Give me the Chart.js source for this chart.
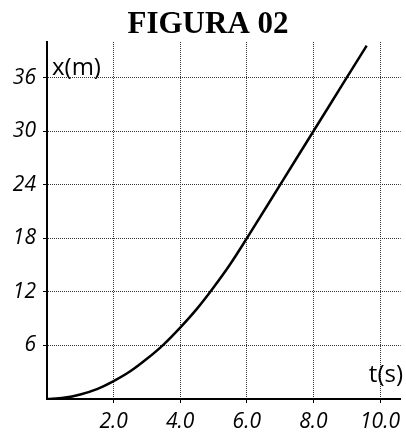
<!DOCTYPE html>
<html>
<head>
<meta charset="utf-8">
<script src="https://cdn.jsdelivr.net/npm/chart.js@4/dist/chart.umd.min.js"></script>
<style>
  html, body { margin: 0; padding: 0; background: #fff; }
  #wrap { width: 406px; height: 432px; }
</style>
</head>
<body>
<div id="wrap"><canvas id="c" width="406" height="432"></canvas></div>
<script>
// tempo (s) e posição (m)
const tempos   = [0, 0.5, 1, 1.5, 2, 2.5, 3, 3.5, 4, 4.5, 5, 5.5, 6, 7, 8, 9, 9.6];
const posicoes = [0, 0.13, 0.5, 1.1, 2, 3.1, 4.5, 6.1, 8, 10.1, 12.5, 15.1, 18, 24, 30, 36, 39.6];
const ticksX = [2, 4, 6, 8, 10];
const ticksY = [6, 12, 18, 24, 30, 36];

const tickFont = { family: "'Open Sans', 'DejaVu Sans', sans-serif", size: 21, style: 'italic' };

// titulo + rótulos dos eixos
const textos = {
  id: 'textos',
  afterDraw(chart) {
    const { ctx, chartArea: a } = chart;
    ctx.save();
    ctx.fillStyle = '#000';
    ctx.font = "bold 31px 'Liberation Serif', serif";
    ctx.textAlign = 'center';
    ctx.textBaseline = 'alphabetic';
    ctx.fillText('FIGURA 02', 208, 33);
    ctx.font = "24px 'Open Sans', 'DejaVu Sans', sans-serif";
    ctx.textAlign = 'left';
    ctx.fillText('x(m)', a.left + 5, 75);
    ctx.textAlign = 'right';
    ctx.fillText('t(s)', 403, 382);
    ctx.restore();
  }
};

const grade = {
  color: '#333',
  lineWidth: 1,
  drawTicks: true,
  tickLength: 4,
  tickColor: '#000'
};

new Chart(document.getElementById('c'), {
  type: 'line',
  data: {
    datasets: [{
      data: tempos.map((t, i) => ({ x: t, y: posicoes[i] })),
      borderColor: '#000',
      borderWidth: 2.5,
      pointRadius: 0,
      fill: false,
      cubicInterpolationMode: 'monotone'
    }]
  },
  options: {
    responsive: false,
    animation: false,
    layout: { padding: { top: 42, right: 0, left: 0, bottom: 0 } },
    plugins: { legend: { display: false }, tooltip: { enabled: false } },
    scales: {
      x: {
        type: 'linear',
        min: 0, max: 10.62,
        afterBuildTicks: s => { s.ticks = ticksX.map(v => ({ value: v })); },
        afterFit: s => { s.height = 33; },
        ticks: {
          font: tickFont, color: '#000', padding: 6,
          maxRotation: 0, autoSkip: false,
          callback: v => v.toFixed(1)
        },
        grid: grade,
        border: { display: true, color: '#000', width: 2, dash: [1, 1] }
      },
      y: {
        type: 'linear',
        min: 0, max: 40,
        afterBuildTicks: s => { s.ticks = ticksY.map(v => ({ value: v })); },
        afterFit: s => { s.width = 47; },
        ticks: { font: tickFont, color: '#000', padding: 7 },
        grid: grade,
        border: { display: true, color: '#000', width: 2, dash: [1, 1] }
      }
    }
  },
  plugins: [textos]
});
</script>
</body>
</html>
